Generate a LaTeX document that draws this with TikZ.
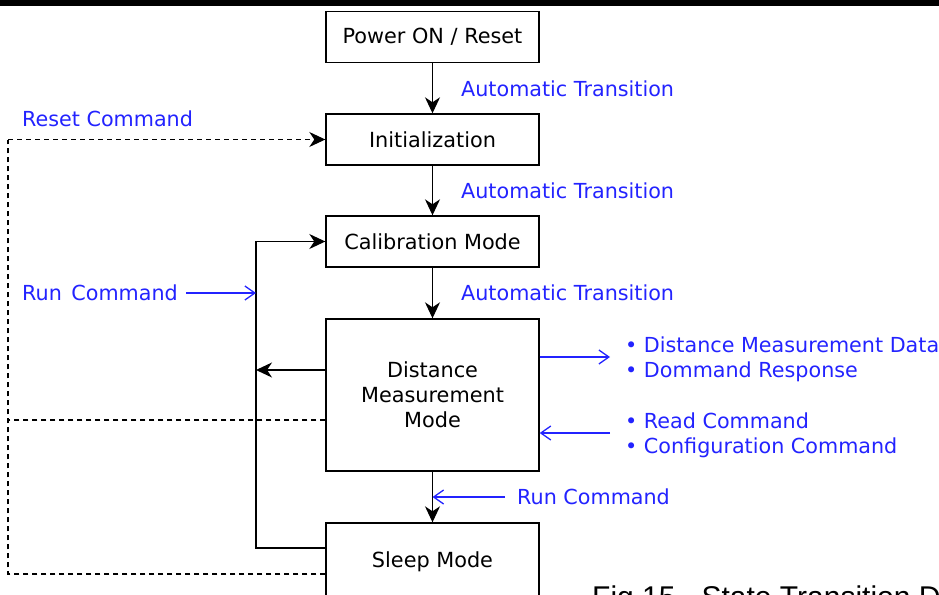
\documentclass[tikz,border=0pt]{standalone}
\usepackage{fontspec}
\setmainfont{DejaVu Sans}
\newfontfamily\capfont{Liberation Sans}
\usetikzlibrary{arrows.meta}
\definecolor{lblue}{RGB}{35,35,255}
\begin{document}
\begin{tikzpicture}[x=1pt,y=-1pt,
  box/.style={draw, line width=1.4pt, minimum width=213pt, inner sep=0pt,
    font=\fontsize{20.8}{25}\selectfont, align=center},
  flow/.style={line width=1.4pt, -{Stealth[length=16pt,width=15pt,inset=5pt]}},
  dsh/.style={line width=1.2pt, dash pattern=on 5pt off 4pt},
  barb/.style={lblue, line width=1.3pt, -{Straight Barb[length=10pt,width=14pt]}},
  lbl/.style={lblue, anchor=base west, inner sep=0pt, font=\fontsize{20.7}{25}\selectfont}
]
\clip (0,0) rectangle (939,594);
\fill[black] (0,0) rectangle (939,6);

% boxes
\node[box, minimum height=51pt] (pw) at (432.5,37) {Power ON / Reset};
\node[box, minimum height=51pt] (init) at (432.5,139.5) {Initialization};
\node[box, minimum height=51pt] (cal) at (432.5,241.5) {Calibration Mode};
\node[box, minimum height=152pt] (dmm) at (432.5,395) {Distance\\Measurement\\Mode};
\node[box, minimum height=78pt] (sleep) at (432.5,562) {Sleep Mode};

% main flow
\draw[flow] (pw) -- (init);
\draw[flow] (init) -- (cal);
\draw[flow] (cal) -- (dmm);
\draw[flow] (dmm) -- (sleep);
\node[lbl] (a1) at (461,96) {Automatic Transition};
\node[lbl] (a2) at (461,198) {Automatic Transition};
\node[lbl] (a3) at (461,300) {Automatic Transition};

% bottom run command
\coordinate (runin) at (432.5,497);
\node[lbl] (run2) at (517,504) {Run Command};
\draw[barb] ([xshift=-12pt]run2.west |- runin) -- (runin);

% left solid loop
\coordinate (lcorner) at (256,241.5);
\coordinate (lmid) at (256,370);
\coordinate (runtip) at (256,293);
\draw[flow] ([yshift=14pt]sleep.west) -| (lcorner) -- (cal.west);
\draw[flow] ([yshift=25pt]dmm.west) -- (lmid);
\node[lbl] (run1) at (22,300) {Run\hspace{3pt} Command};
\draw[barb] ([xshift=8pt]run1.east |- runtip) -- (runtip);

% dashed reset loop
\coordinate (dbot) at (8,574);
\coordinate (dtop) at (8,139.5);
\coordinate (dmid) at (8,420);
\draw[dsh] ([yshift=-12pt]sleep.west) -- (dbot) -- (dtop);
\draw[dsh, -{Stealth[length=16pt,width=15pt,inset=5pt]}] (dtop) -- (init.west);
\draw[dsh] ([yshift=-25pt]dmm.west) -- (dmid);
\node[lbl] (reset) at (22,126) {Reset Command};

% right side
\coordinate (outtip) at (610,357);
\coordinate (instart) at (610,433);
\draw[barb] ([yshift=38pt]dmm.east) -- (outtip);
\draw[barb] (instart) -- ([yshift=-38pt]dmm.east);
\node[lbl] (b1) at (625,352) {• Distance Measurement Data};
\node[lbl] (b2) at (625,377) {• Dommand Response};
\node[lbl] (b3) at (625,428) {• Read Command};
\node[lbl] (b4) at (625,453) {• Configuration Command};

% caption (cut off at the lower edge, as in the reference)
\node[anchor=base west, inner sep=0pt, font=\capfont\fontsize{30}{31}\selectfont] (cap) at (592,607) {Fig.15\hspace{26pt}State Transition Diagram};
\end{tikzpicture}
\end{document}
